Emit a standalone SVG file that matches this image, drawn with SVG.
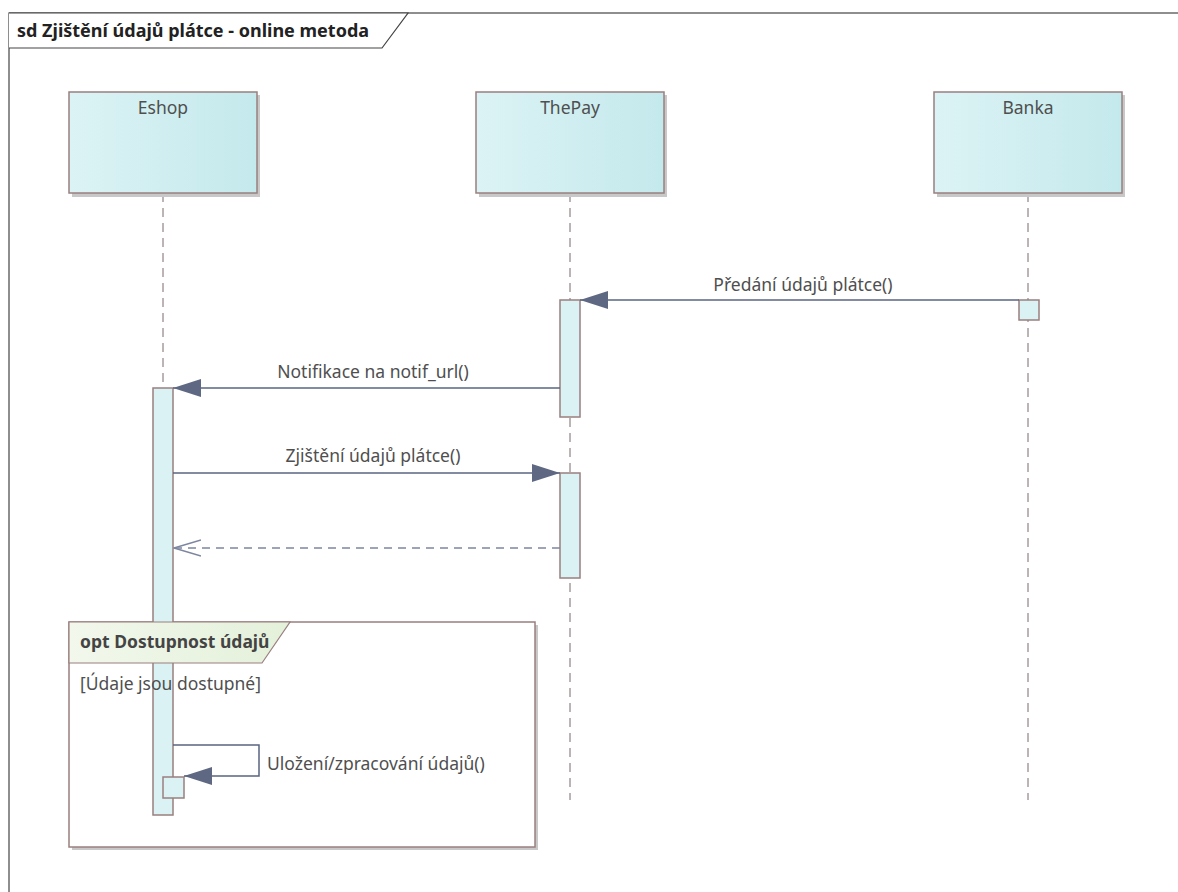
<svg xmlns="http://www.w3.org/2000/svg" width="1178" height="892" viewBox="0 0 1178 892">
<defs>
<linearGradient id="lg" x1="0" y1="0" x2="1" y2="0">
<stop offset="0" stop-color="#dcf3f5"/><stop offset="1" stop-color="#c4e9ec"/>
</linearGradient>
<linearGradient id="gg" x1="0" y1="0" x2="1" y2="0">
<stop offset="0" stop-color="#f2f8ec"/><stop offset="1" stop-color="#e4f1da"/>
</linearGradient>
<marker id="fa" viewBox="0 0 28 18" refX="28" refY="9" markerWidth="28" markerHeight="18" markerUnits="userSpaceOnUse" orient="auto">
<path d="M0,0 L28,9 L0,18 Z" fill="#5f6883"/>
</marker>
<marker id="oa" viewBox="0 0 28 18" refX="27" refY="9" markerWidth="28" markerHeight="18" markerUnits="userSpaceOnUse" orient="auto">
<path d="M0,1 L27,9 L0,17" fill="none" stroke="#7d86a0" stroke-width="1.5"/>
</marker>
</defs>
<style>
text{font-family:"Noto Sans","Open Sans","Liberation Sans",sans-serif;font-size:17.5px;fill:#4f4f4f}
.b{font-weight:bold;fill:#222}
.hd{fill:url(#lg);stroke:#9a7f7f;stroke-width:1.5}
.sh{fill:#c8c8c8}
.ll{stroke:#7a6a6a;stroke-width:1;stroke-dasharray:9,6;fill:none}
.act{fill:#daf2f4;stroke:#9a7f7f;stroke-width:1.5}
.msg{stroke:#5a6480;stroke-width:1.5;fill:none}
.ret{stroke:#7d86a0;stroke-width:1.5;fill:none;stroke-dasharray:8,6}
</style>
<rect width="1178" height="892" fill="#fff"/>
<g id="frame">
<rect x="9" y="13" width="1200" height="900" fill="none" stroke="#444" stroke-width="1.2"/>
<path d="M9,13 L408,13 L382,48 L9,48" fill="#fff" stroke="#444" stroke-width="1.2"/>
<text class="b" x="17" y="37" style="font-size:18px">sd Zjištění údajů plátce - online metoda</text>
</g>
<g id="lifelines">
<path class="ll" d="M163,193 V800 M570,193 V800 M1028,193 V800"/>
</g>
<g id="eshop">
<rect class="sh" x="72" y="95" width="188" height="102"/>
<rect class="hd" x="69" y="92" width="188" height="101"/>
<text x="163" y="114" text-anchor="middle">Eshop</text>
</g>
<g id="thepay">
<rect class="sh" x="479" y="95" width="188" height="102"/>
<rect class="hd" x="476" y="92" width="188" height="101"/>
<text x="570" y="114" text-anchor="middle">ThePay</text>
</g>
<g id="banka">
<rect class="sh" x="937" y="95" width="188" height="102"/>
<rect class="hd" x="934" y="92" width="188" height="101"/>
<text x="1028" y="114" text-anchor="middle">Banka</text>
</g>
<g id="opt-body">
<rect class="sh" x="72" y="625" width="466" height="225"/>
<rect x="69" y="622" width="466" height="225" fill="#fff" stroke="#9a7f7f" stroke-width="1.5"/>
</g>
<g id="activations">
<rect class="act" x="153" y="388" width="20" height="427"/>
<rect class="act" x="560" y="300" width="20" height="117"/>
<rect class="act" x="560" y="473" width="20" height="105"/>
<rect class="act" x="1019" y="300" width="20" height="20"/>
<rect class="act" x="163" y="777" width="21" height="21"/>
</g>
<g id="opt">
<path d="M69,622 L290,622 L262,663 L69,663 Z" fill="url(#gg)" stroke="#9a7f7f" stroke-width="1.2"/>
<text class="b" x="80" y="648" style="fill:#444">opt Dostupnost údajů</text>
<text x="80" y="690">[Údaje jsou dostupné]</text>
</g>
<g id="connectors">
<line class="msg" x1="1019" y1="300" x2="580" y2="300" marker-end="url(#fa)"/>
<text x="803" y="291" text-anchor="middle">Předání údajů plátce()</text>
<line class="msg" x1="560" y1="388" x2="173" y2="388" marker-end="url(#fa)"/>
<text x="373" y="378" text-anchor="middle">Notifikace na notif_url()</text>
<line class="msg" x1="173" y1="473" x2="560" y2="473" marker-end="url(#fa)"/>
<text x="373" y="462" text-anchor="middle">Zjištění údajů plátce()</text>
<line class="ret" x1="560" y1="548" x2="174" y2="548" marker-end="url(#oa)"/>
<path class="msg" d="M173,745 H259 V776 H184" marker-end="url(#fa)"/>
<text x="267" y="770">Uložení/zpracování údajů()</text>
</g>
</svg>
